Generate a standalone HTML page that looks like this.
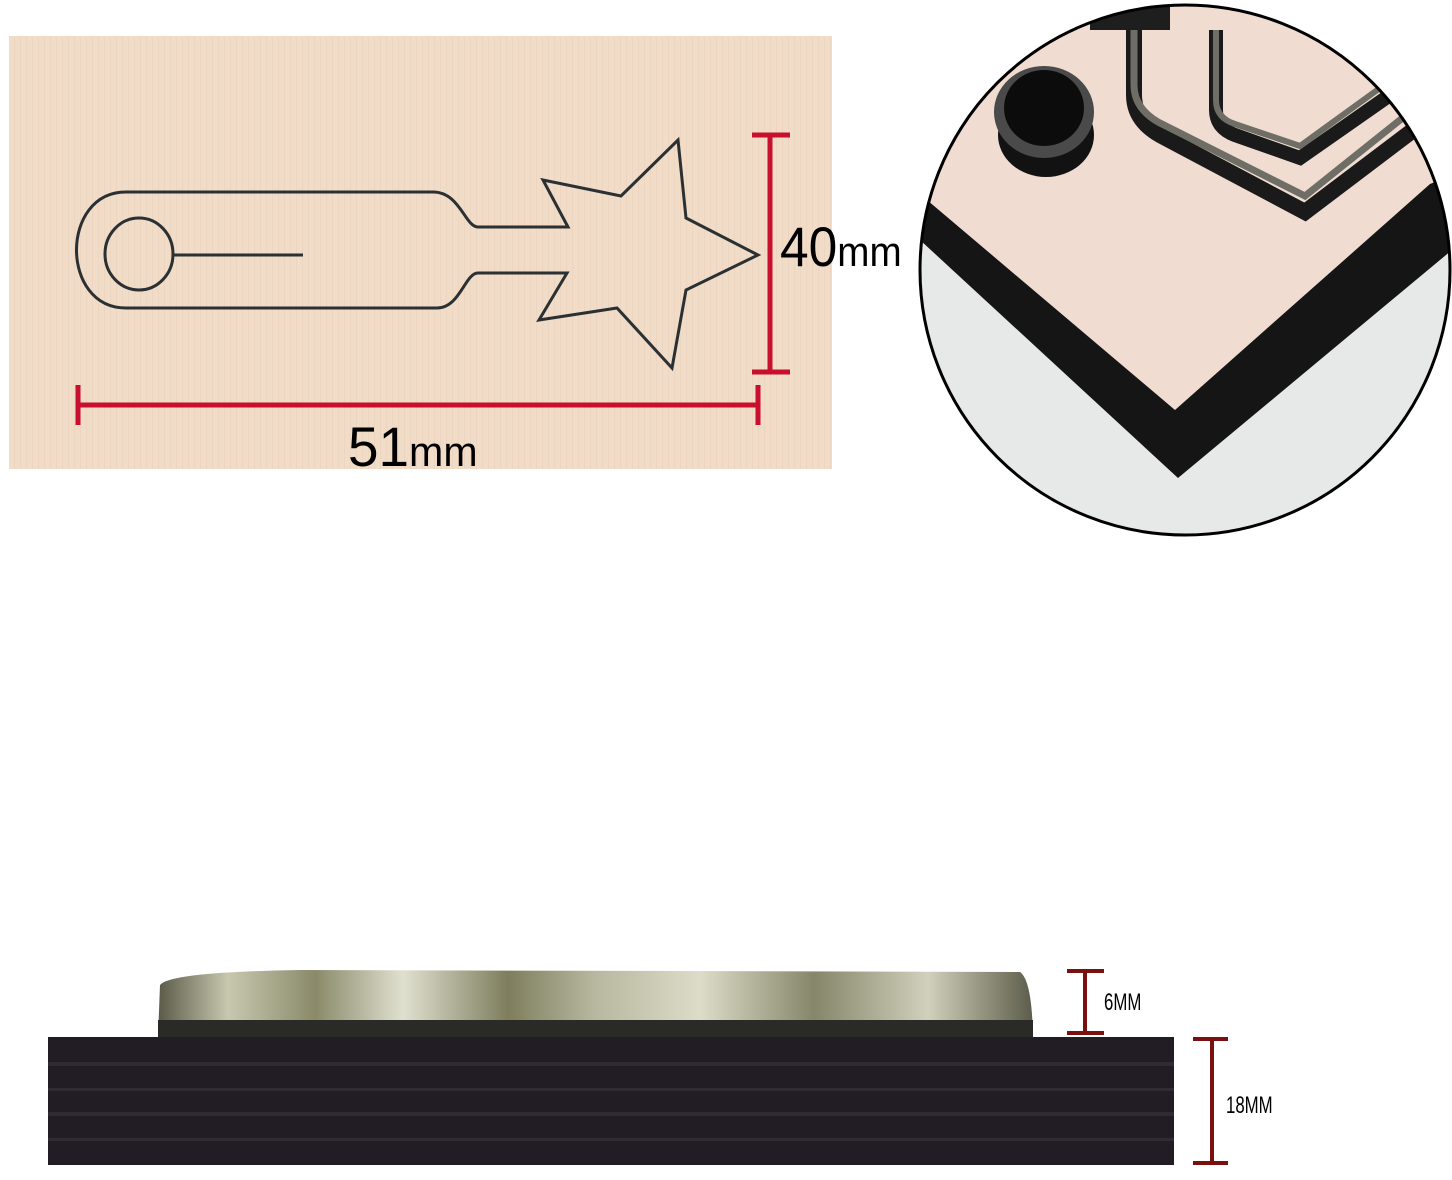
<!DOCTYPE html>
<html><head><meta charset="utf-8"><style>
html,body{margin:0;padding:0;background:#fff;}
svg{display:block}
text{font-family:"Liberation Sans",sans-serif;}
</style></head><body>
<svg width="1452" height="1180" viewBox="0 0 1452 1180" xmlns="http://www.w3.org/2000/svg">
<defs>
<pattern id="grain" width="6" height="40" patternUnits="userSpaceOnUse">
<rect width="6" height="40" fill="#f1dcc8"/>
<rect x="2" width="1" height="40" fill="#ead3bf" opacity="0.7"/>
</pattern>
<clipPath id="cc"><circle cx="1185" cy="270" r="265"/></clipPath>
<linearGradient id="metal" x1="0" y1="0" x2="1" y2="0">
<stop offset="0" stop-color="#5a5a48"/><stop offset="0.08" stop-color="#c8c8b0"/>
<stop offset="0.18" stop-color="#8a8a6a"/><stop offset="0.28" stop-color="#e0e0d0"/>
<stop offset="0.4" stop-color="#7e7e5e"/><stop offset="0.5" stop-color="#b8b8a0"/>
<stop offset="0.62" stop-color="#dcdcc8"/><stop offset="0.75" stop-color="#86866a"/>
<stop offset="0.88" stop-color="#d0d0bc"/><stop offset="1" stop-color="#5c5c4a"/>
</linearGradient>
</defs>

<rect x="9" y="36" width="823" height="433" fill="url(#grain)"/>
<g fill="none" stroke="#2b3033" stroke-width="3" stroke-linejoin="miter">
<path d="M126 192 L433 192 C460 192 465 227 478 227 L568 227 L543 180 L621 196 L678 140 L686 218 L758 255 L686 290 L672 368 L617 308 L539 320 L567 273 L478 273 C465 273 460 308 437 308 L126 308 C60 308 60 192 126 192 Z"/>
<ellipse cx="139" cy="254" rx="34" ry="36"/>
<line x1="173" y1="255" x2="303" y2="255"/>
</g>
<g stroke="#c8102e" stroke-width="5">
<line x1="770" y1="135" x2="770" y2="372"/>
<line x1="752" y1="135" x2="790" y2="135"/>
<line x1="752" y1="372" x2="790" y2="372"/>
<line x1="78" y1="405" x2="758" y2="405"/>
<line x1="78" y1="385" x2="78" y2="425"/>
<line x1="758" y1="385" x2="758" y2="425"/>
</g>
<text x="780" y="266" font-size="56" transform="translate(780 0) scale(0.92 1) translate(-780 0)" fill="#000">40<tspan font-size="42">mm</tspan></text>
<text x="348" y="466" font-size="56" transform="translate(348 0) scale(0.98 1) translate(-348 0)" fill="#000">51<tspan font-size="42">mm</tspan></text>

<g clip-path="url(#cc)">
<rect x="900" y="0" width="560" height="560" fill="#e6e9e7"/>
<polygon points="900,0 1452,0 1452,175 1430,184 1175,410 927,200 900,195" fill="#f0dcd0"/>
<polygon points="900,195 927,200 1175,410 1430,184 1452,175 1452,250 1178,478 920,240 900,240" fill="#151515"/>
<ellipse cx="1046" cy="135" rx="48" ry="42" fill="#121212"/>
<ellipse cx="1044" cy="112" rx="50" ry="46" fill="#4a4a4a"/>
<ellipse cx="1044" cy="108" rx="40" ry="38" fill="#0c0c0c"/>
<path d="M1134 0 L1134 95 Q1134 120 1160 135 L1305 212 L1420 125" fill="none" stroke="#1a1a1a" stroke-width="16"/>
<path d="M1134 0 L1134 85 Q1134 108 1158 122 L1305 196 L1410 112" fill="none" stroke="#6e6e66" stroke-width="7"/>
<path d="M1216 30 L1216 110 Q1216 128 1235 135 L1300 158 L1390 95" fill="none" stroke="#1a1a1a" stroke-width="14"/>
<path d="M1216 30 L1216 100 Q1216 118 1235 124 L1300 146 L1380 88" fill="none" stroke="#6e6e66" stroke-width="6"/>
<rect x="1090" y="0" width="80" height="30" fill="#1e1e1e"/>
</g>
<circle cx="1185" cy="270" r="265" fill="none" stroke="#000" stroke-width="3"/>

<path d="M160 985 Q170 972 300 970 L1020 972 Q1032 980 1033 1038 L158 1038 Z" fill="url(#metal)"/>
<rect x="158" y="1020" width="875" height="18" fill="#2a2a26"/>
<rect x="48" y="1037" width="1126" height="128" fill="#221d24"/>
<g fill="#3a3340" opacity="0.6">
<rect x="48" y="1062" width="1126" height="4"/>
<rect x="48" y="1088" width="1126" height="3"/>
<rect x="48" y="1112" width="1126" height="4"/>
<rect x="48" y="1138" width="1126" height="3"/>
</g>
<g stroke="#7a1010" stroke-width="4">
<line x1="1085" y1="971" x2="1085" y2="1033"/>
<line x1="1067" y1="971" x2="1104" y2="971"/>
<line x1="1067" y1="1033" x2="1104" y2="1033"/>
<line x1="1212" y1="1039" x2="1212" y2="1163"/>
<line x1="1193" y1="1039" x2="1228" y2="1039"/>
<line x1="1193" y1="1163" x2="1228" y2="1163"/>
</g>
<text x="1104" y="1010" font-size="24" transform="translate(1104 0) scale(0.7 1) translate(-1104 0)" fill="#000">6MM</text>
<text x="1226" y="1113" font-size="24" transform="translate(1226 0) scale(0.7 1) translate(-1226 0)" fill="#000">18MM</text>
</svg>
</body></html>
